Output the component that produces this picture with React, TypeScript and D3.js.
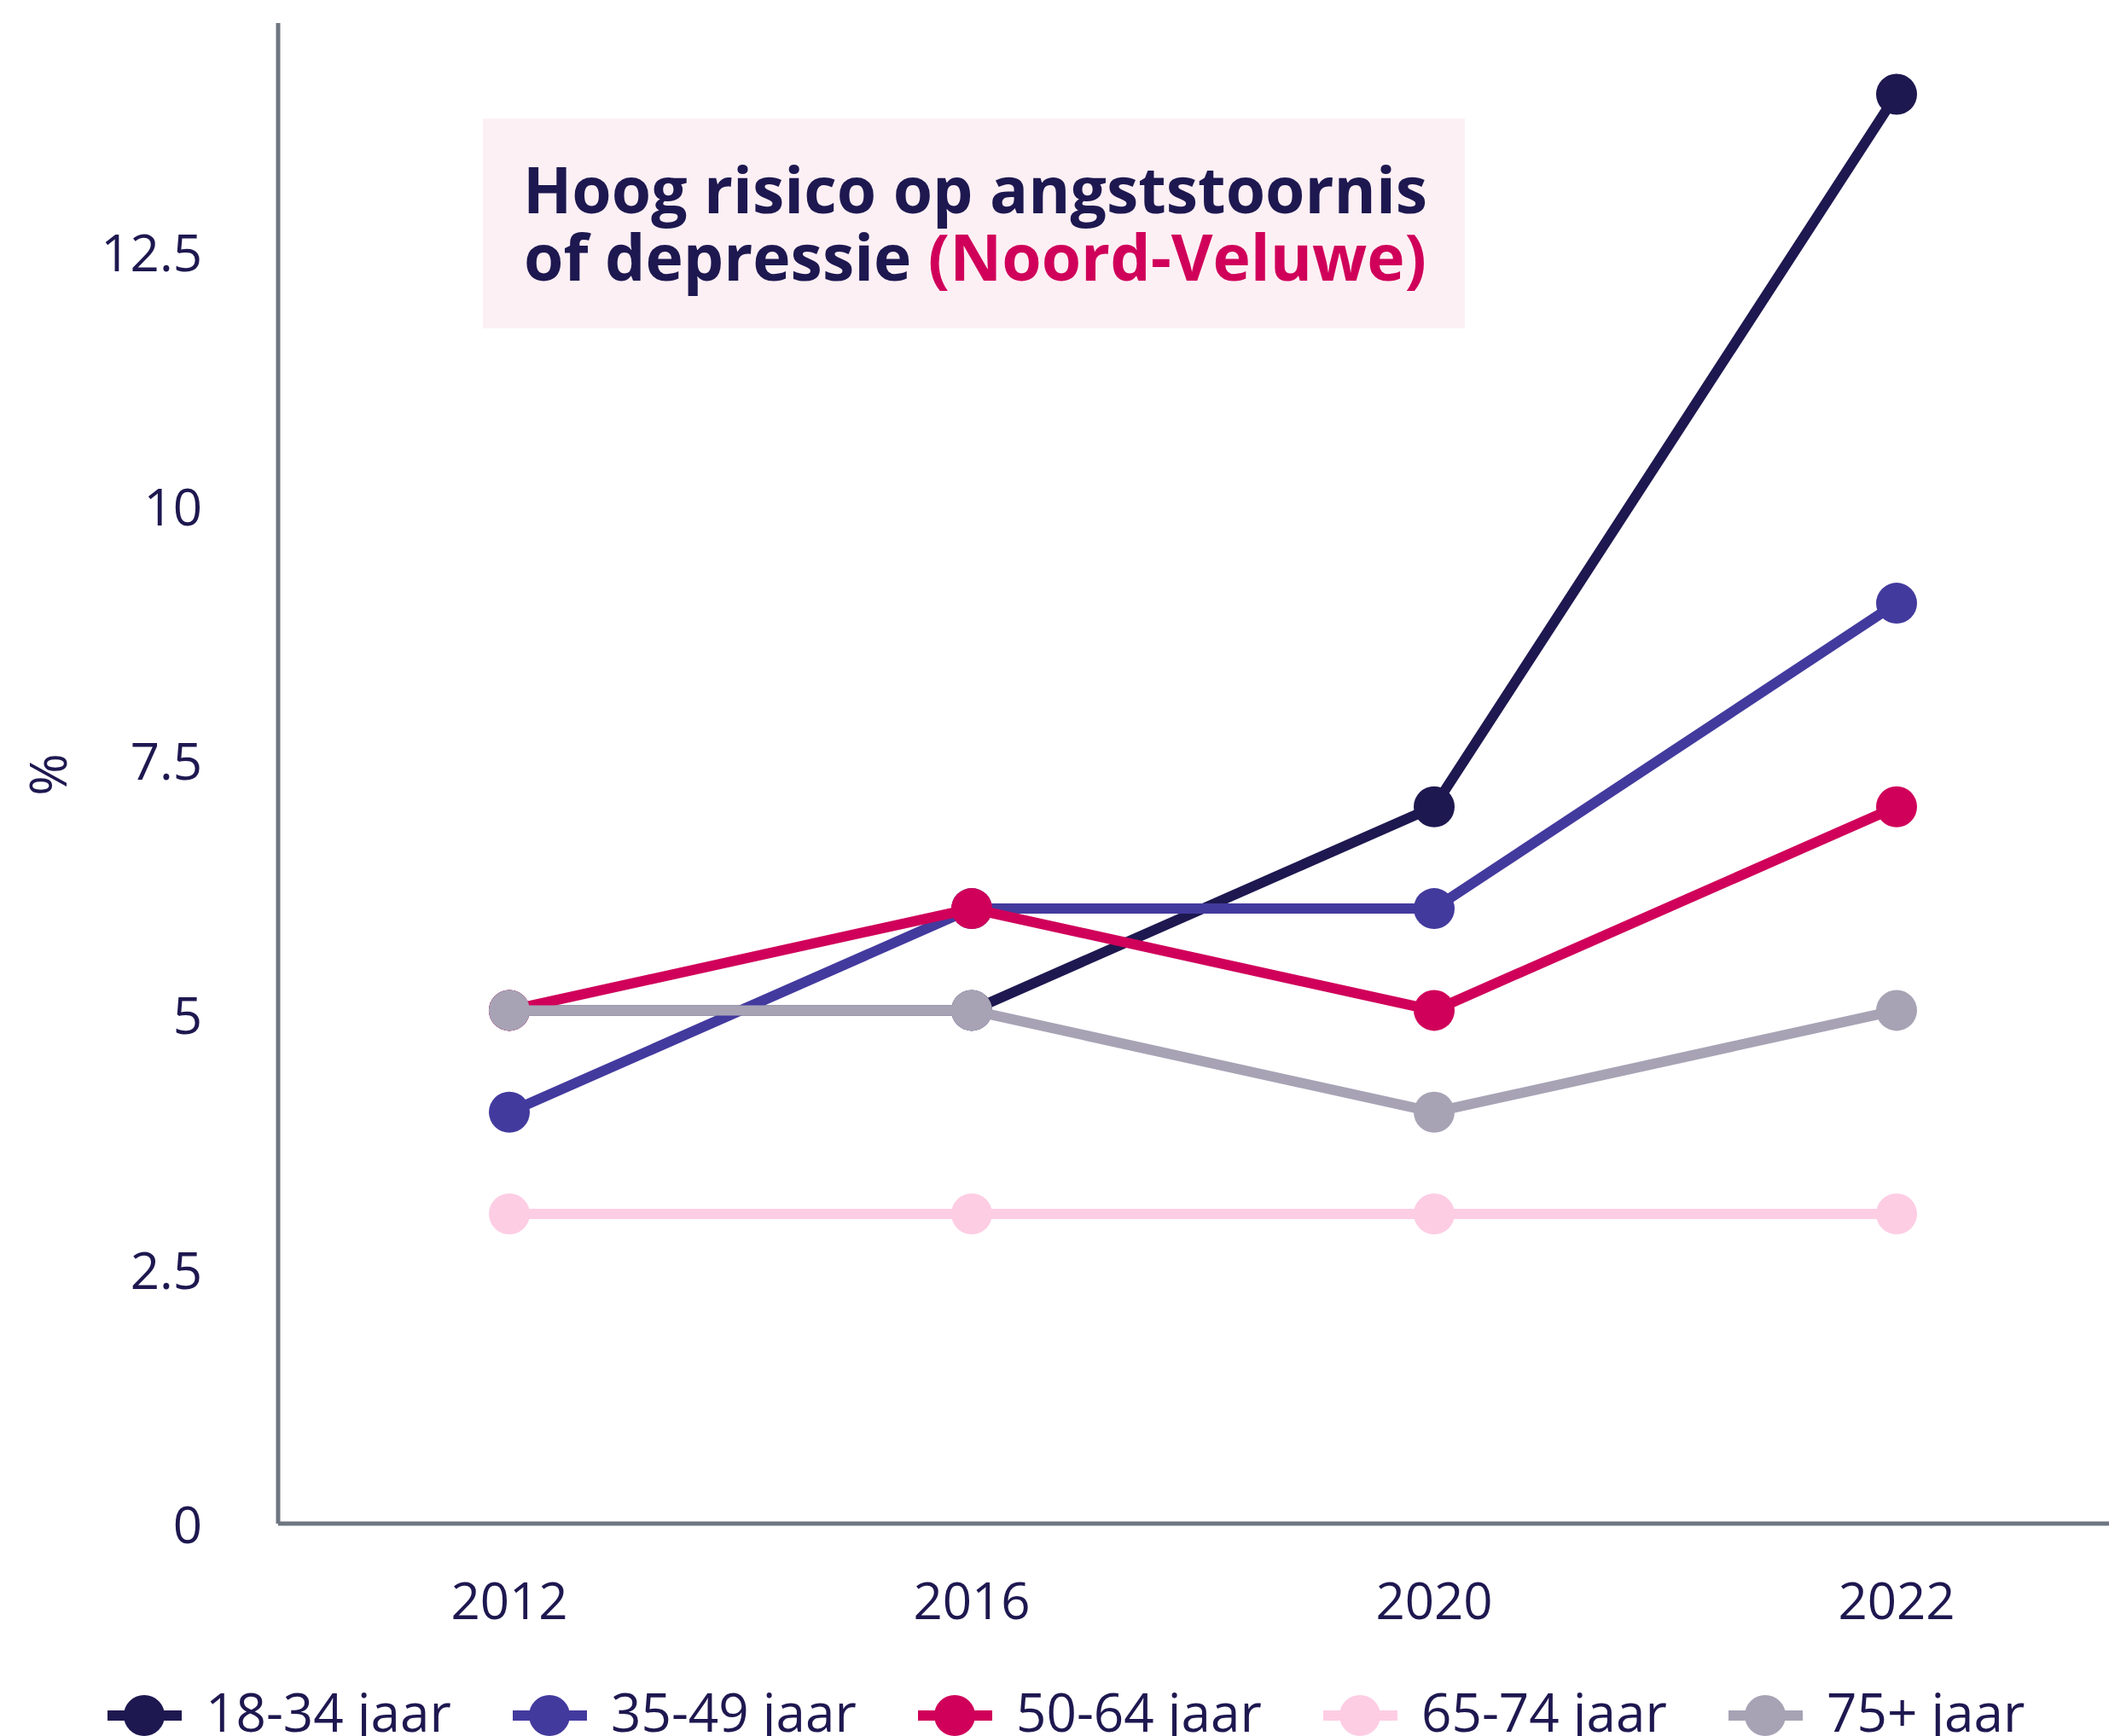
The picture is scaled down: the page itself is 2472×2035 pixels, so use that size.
import { useMemo } from 'react'
import * as d3 from 'd3'

const years = ['2012', '2016', '2020', '2022']
const groups = ['18-34 jaar', '35-49 jaar', '50-64 jaar', '65-74 jaar', '75+ jaar']
const colors = ['#1E1850', '#433A9E', '#D0005A', '#FDCDE4', '#A7A3B5']

const v1834 = [5, 5, 7, 14]
const v3549 = [4, 6, 6, 9]
const v5064 = [5, 6, 5, 7]
const v6574 = [3, 3, 3, 3]
const v75 = [5, 5, 4, 5]
const seriesValues = [v1834, v3549, v5064, v6574, v75]

const yTicks = [0, 2.5, 5, 7.5, 10, 12.5]

const W = 2472
const H = 2035
const font = '"Open Sans", sans-serif'
const ink = '#1E1850'

export default function App() {
  const x = useMemo(() => d3.scalePoint<string>().domain(years).range([326, 2494]).padding(0.5), [])
  const y = useMemo(() => d3.scaleLinear().domain([0, 14.7]).range([1781, 27]), [])

  const line = d3.line<number>()
    .x((_, i) => x(years[i])!)
    .y(d => y(d))

  return (
    <svg width={W} height={H} style={{ position: 'absolute', left: 0, top: 0, background: '#fff' }}>
      {/* title box */}
      <rect x={566} y={139} width={1151} height={246} fill="#FDF0F4" />
      <text x={1143} y={250} textAnchor="middle" fontFamily={font} fontWeight={700} fontSize={75} fill={ink}>
        Hoog risico op angststoornis
      </text>
      <text x={1143} y={329} textAnchor="middle" fontFamily={font} fontWeight={700} fontSize={75} fill={ink}>
        of depressie <tspan fill="#D0005A">(Noord-Veluwe)</tspan>
      </text>

      {/* axes */}
      <line x1={326} x2={326} y1={27} y2={1786} stroke="#6E7681" strokeWidth={5} />
      <line x1={326} x2={W} y1={1786} y2={1786} stroke="#6E7681" strokeWidth={5} />

      {yTicks.map(t => (
        <text key={t} x={237} y={y(t) + 28} textAnchor="end" fontFamily={font} fontSize={60} fill={ink}>
          {t}
        </text>
      ))}
      <text transform="translate(78,908) rotate(-90)" textAnchor="middle" fontFamily={font} fontSize={60} fill={ink}>%</text>

      {years.map(yr => (
        <text key={yr} x={x(yr)!} y={1898} textAnchor="middle" fontFamily={font} fontSize={60} fill={ink}>
          {yr}
        </text>
      ))}

      {/* series */}
      {seriesValues.map((vals, si) => (
        <g key={groups[si]}>
          <path d={line(vals)!} fill="none" stroke={colors[si]} strokeWidth={12} strokeLinejoin="round" />
          {vals.map((v, i) => (
            <circle key={i} cx={x(years[i])!} cy={y(v)} r={24} fill={colors[si]} />
          ))}
        </g>
      ))}

      {/* legend */}
      {groups.map((g, i) => {
        const lx = 126 + i * 475
        return (
          <g key={g}>
            <line x1={lx} x2={lx + 87} y1={2011} y2={2011} stroke={colors[i]} strokeWidth={12} />
            <circle cx={lx + 43} cy={2011} r={24} fill={colors[i]} />
            <text x={lx + 115} y={2030} fontFamily={font} fontSize={62} fill={ink}>{g}</text>
          </g>
        )
      })}
    </svg>
  )
}
